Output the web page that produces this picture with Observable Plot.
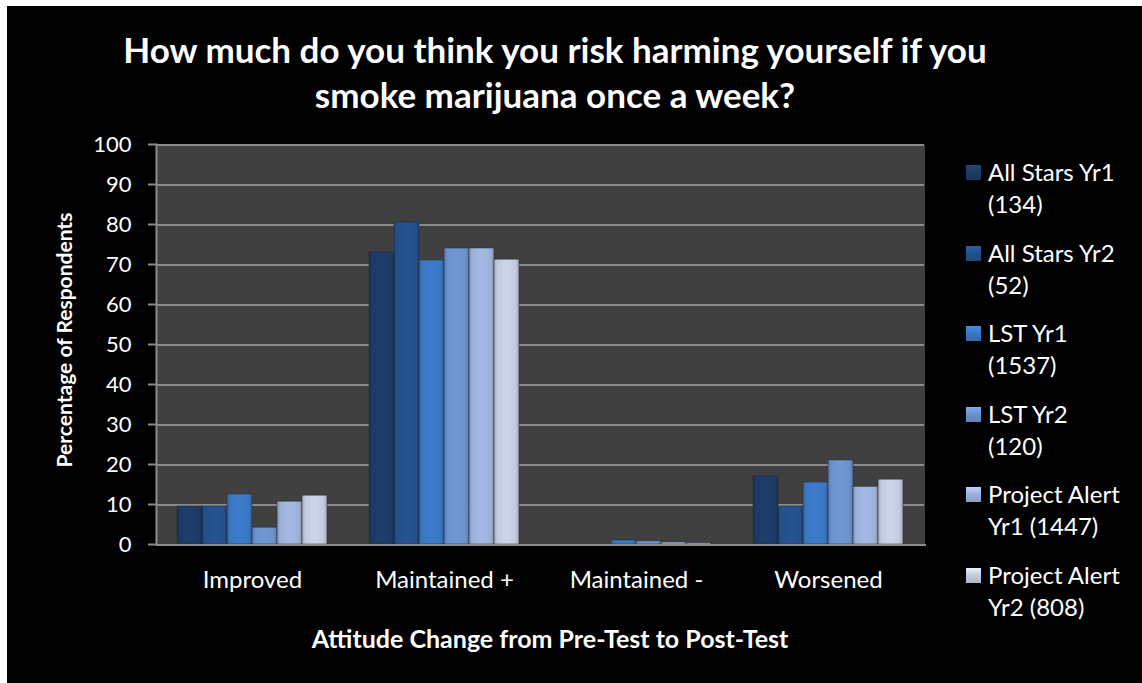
<!DOCTYPE html>
<html><head><meta charset="utf-8">
<script src="https://cdn.jsdelivr.net/npm/d3@7"></script>
<script src="https://cdn.jsdelivr.net/npm/@observablehq/plot@0.6"></script>
<style>
html,body{margin:0;padding:0;background:#fff;}
#wrap{position:absolute;left:7px;top:6px;width:1135px;height:677px;background:#000;overflow:hidden;font-family:Lato,"Open Sans",sans-serif;color:#fff;}
#title{position:absolute;left:0;width:1096px;top:21px;text-align:center;font-weight:700;font-size:35px;line-height:45px;}
#chart{position:absolute;left:0;top:0;}
#ylab{position:absolute;left:56px;top:334px;transform:translate(-50%,-50%) rotate(-90deg);white-space:nowrap;font-weight:700;font-size:21px;}
#xlab{position:absolute;left:543px;top:632px;transform:translate(-50%,-50%);white-space:nowrap;font-weight:700;font-size:25px;}
.leg{position:absolute;left:959px;width:170px;font-size:24px;line-height:32px;}
.leg .sw{position:absolute;left:0;top:9px;width:15px;height:15px;}
.leg .tx{position:absolute;left:22px;width:138px;}
</style></head><body>
<div id="wrap">
  <div id="title">How much do you think you risk harming yourself if you<br>smoke marijuana once a week?</div>
  <div id="chart"></div>
  <div id="ylab">Percentage of Respondents</div>
  <div id="xlab">Attitude Change from Pre-Test to Post-Test</div>
  <div id="legend"></div>
</div>
<script>
const categories = ["Improved", "Maintained +", "Maintained -", "Worsened"];
const series = ["All Stars Yr1 (134)", "All Stars Yr2 (52)", "LST Yr1 (1537)", "LST Yr2 (120)", "Project Alert Yr1 (1447)", "Project Alert Yr2 (808)"];
const allStarsYr1 = [9.5, 73, 0, 17];
const allStarsYr2 = [9.5, 80.5, 0, 9.5];
const lstYr1 = [12.5, 71, 1, 15.5];
const lstYr2 = [4.2, 74, 0.8, 21];
const projectAlertYr1 = [10.7, 74, 0.5, 14.4];
const projectAlertYr2 = [12.2, 71.2, 0.3, 16.2];
const yTicks = [0, 10, 20, 30, 40, 50, 60, 70, 80, 90, 100];

const seriesValues = [allStarsYr1, allStarsYr2, lstYr1, lstYr2, projectAlertYr1, projectAlertYr2];
const colors = ["#1d3b66", "#24508b", "#3a76c2", "#6a91cb", "#9cb0d7", "#c2cade"];

const data = categories.flatMap((c, i) => series.map((s, j) => ({category: c, series: s, value: seriesValues[j][i]})));

// draw the left axis line only in the first facet
let leftCount = 0;
const firstFacetOnly = (index, scales, values, dims, ctx, next) => (leftCount++ === 0 ? next(index, scales, values, dims, ctx) : null);

const chart = Plot.plot({
  width: 1135, height: 677,
  marginLeft: 149, marginRight: 218, marginTop: 138, marginBottom: 139,
  style: {background: "transparent", color: "#fff", fontFamily: "Lato, 'Open Sans', sans-serif", fontSize: "22px"},
  fx: {domain: categories, padding: 0, label: null},
  x: {domain: series, axis: null, paddingInner: 0, paddingOuter: 0.75},
  y: {domain: [0, 100], label: null},
  color: {domain: series, range: colors.map((c, i) => `url(#g${i})`)},
  marks: [
    Plot.frame({fill: "#404040", stroke: "none", shapeRendering: "crispEdges", insetLeft: -0.5, insetRight: -0.5}),
    Plot.gridY(yTicks.slice(1), {stroke: "#8a8a8a", strokeOpacity: 1, strokeWidth: 2, shapeRendering: "crispEdges"}),
    Plot.barY(data, {fx: "category", x: "series", y: "value", fill: "series", stroke: "#2a2a2a", strokeOpacity: 0.5, strokeWidth: 1}),
    Plot.frame({anchor: "left", stroke: "#8c8c8c", strokeWidth: 2, render: firstFacetOnly}),
    Plot.frame({anchor: "bottom", stroke: "#8c8c8c", strokeWidth: 2, shapeRendering: "crispEdges"}),
    Plot.axisY({ticks: yTicks, tickSize: 8, tickPadding: 17, stroke: "#8c8c8c", strokeWidth: 2, label: null, fill: "#fff"}),
    Plot.axisFx({anchor: "bottom", tickSize: 0, tickPadding: 26, label: null, fill: "#fff", fontSize: 24})
  ]
});

// gradients for bar shading
const ns = "http://www.w3.org/2000/svg";
const defs = document.createElementNS(ns, "defs");
colors.forEach((c, i) => {
  const g = document.createElementNS(ns, "linearGradient");
  g.setAttribute("id", `g${i}`);
  g.setAttribute("x1", "0"); g.setAttribute("x2", "1"); g.setAttribute("y1", "0"); g.setAttribute("y2", "0");
  const base = d3.color(c);
  const stops = [[0, base.darker(0.6)], [0.12, base], [0.5, base.brighter(0.15)], [0.88, base], [1, base.darker(0.6)]];
  stops.forEach(([o, col]) => {
    const s = document.createElementNS(ns, "stop");
    s.setAttribute("offset", o);
    s.setAttribute("stop-color", col.formatHex());
    g.appendChild(s);
  });
  defs.appendChild(g);
});
chart.insertBefore(defs, chart.firstChild);
document.getElementById("chart").appendChild(chart);

// legend
const legend = document.getElementById("legend");
series.forEach((s, i) => {
  const item = document.createElement("div");
  item.className = "leg";
  item.style.top = (150 + i * 80.5) + "px";
  const sw = document.createElement("div");
  sw.className = "sw";
  sw.style.background = `linear-gradient(to bottom, ${d3.color(colors[i]).brighter(0.5)}, ${colors[i]} 50%, ${d3.color(colors[i]).darker(0.3)})`;
  const tx = document.createElement("div");
  tx.className = "tx";
  tx.textContent = s;
  item.appendChild(sw); item.appendChild(tx);
  legend.appendChild(item);
});
</script>
</body></html>
